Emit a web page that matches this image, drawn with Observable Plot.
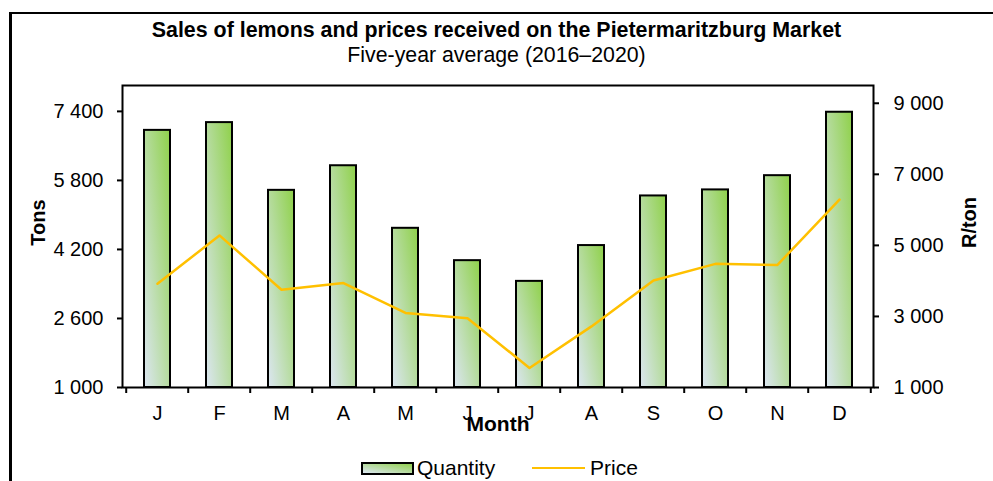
<!DOCTYPE html>
<html><head><meta charset="utf-8">
<script src="https://cdn.jsdelivr.net/npm/d3@7"></script>
<script src="https://cdn.jsdelivr.net/npm/@observablehq/plot@0.6"></script>
<style>
body{margin:0;background:#fff;}
#wrap{position:relative;width:993px;height:481px;overflow:hidden;font-family:"Liberation Sans",Arial,sans-serif;color:#000;background:#fff;}
#border{position:absolute;left:9px;top:12px;width:1000px;height:500px;border-left:3px solid #000;border-top:2px solid #000;}
#title{position:absolute;left:0;width:993px;top:18px;text-align:center;font-weight:bold;font-size:21.4px;line-height:24px;}
#subtitle{position:absolute;left:0;width:993px;top:43px;text-align:center;font-size:21.3px;line-height:24px;}
#chart{position:absolute;left:0;top:70px;}
#legend{position:absolute;top:456px;left:0;width:993px;height:24px;font-size:21px;}
.sw{position:absolute;top:6px;left:361px;width:49px;height:9px;border:2px solid #000;background:linear-gradient(to top right,#dce6f2,#92d050);}
.ln{position:absolute;top:11px;left:532px;width:53px;height:0;border-top:2.5px solid #ffc000;}
.lt{position:absolute;top:0;line-height:24px;}
</style></head>
<body>
<div id="wrap">
  <div id="border"></div>
  <div id="title">Sales of lemons and prices received on the Pietermaritzburg Market</div>
  <div id="subtitle">Five-year average (2016–2020)</div>
  <div id="chart"></div>
  <div id="legend">
    <div class="sw"></div><div class="lt" style="left:417px">Quantity</div>
    <div class="ln"></div><div class="lt" style="left:590px">Price</div>
  </div>
</div>
<script>
const months = ["J","F","M","A","M","J","J","A","S","O","N","D"];
const quantity = [6960, 7140, 5570, 6140, 4690, 3940, 3460, 4290, 5440, 5580, 5910, 7380];
const price = [3920, 5280, 3750, 3940, 3100, 2950, 1550, 2720, 4010, 4480, 4450, 6290];
const tonsTicks = [1000, 2600, 4200, 5800, 7400];
const priceTicks = [1000, 3000, 5000, 7000, 9000];
const tonsDomain = [1000, 8000];
const priceDomain = [1000, 9500];

const data = months.map((m, i) => ({i, month: m, qty: quantity[i], price: price[i]}));
const toTons = p => tonsDomain[0] + (p - priceDomain[0]) * (tonsDomain[1] - tonsDomain[0]) / (priceDomain[1] - priceDomain[0]);
const fromTons = t => priceDomain[0] + (t - tonsDomain[0]) * (priceDomain[1] - priceDomain[0]) / (tonsDomain[1] - tonsDomain[0]);
const fmt = d3.formatLocale({decimal: ".", thousands: " ", grouping: [3], currency: ["", ""]}).format(",");

const W = 993, H = 370, mL = 122, mR = 120, mT = 15, mB = 53;
const step = (W - mL - mR) / months.length;
const FS = 20;

const svg = Plot.plot({
  width: W, height: H,
  marginLeft: mL, marginRight: mR, marginTop: mT, marginBottom: mB,
  style: {fontFamily: '"Liberation Sans", Arial, sans-serif', fontSize: FS + "px", background: "transparent", overflow: "visible", color: "#000"},
  x: {type: "band", domain: d3.range(months.length), paddingInner: 0.585, paddingOuter: 0.2925, align: 0.5},
  y: {domain: tonsDomain},
  marks: [
    Plot.barY(data, {x: "i", y1: tonsDomain[0], y2: "qty", fill: "url(#qgrad)", stroke: "#000", strokeWidth: 2}),
    Plot.lineY(data, {x: "i", y: d => toTons(d.price), stroke: "#ffc000", strokeWidth: 2.5}),
    Plot.frame({stroke: "#000", strokeWidth: 2}),
    Plot.axisY(tonsTicks, {anchor: "left", tickSize: 5, tickPadding: 14, strokeWidth: 2, tickFormat: fmt, label: null, fontSize: FS}),
    Plot.axisY(priceTicks.map(toTons), {anchor: "right", tickSize: 5, tickPadding: 15, strokeWidth: 2, tickFormat: d => fmt(Math.round(fromTons(d))), label: null, fontSize: FS}),
    Plot.axisX(d3.range(months.length), {anchor: "bottom", tickSize: 0, tickPadding: 18, tickFormat: i => months[i], label: null, fontSize: FS}),
    Plot.axisX(d3.range(months.length), {anchor: "bottom", tickSize: 6, strokeWidth: 2, tickFormat: () => "", label: null, dx: -step / 2}),
    Plot.axisX([months.length - 1], {anchor: "bottom", tickSize: 6, strokeWidth: 2, tickFormat: () => "", label: null, dx: step / 2}),
    Plot.text(["Tons"], {frameAnchor: "left", textAnchor: "middle", lineAnchor: "middle", dx: -84, dy: -14, rotate: -90, fontWeight: "bold", fontSize: 20}),
    Plot.text(["R/ton"], {frameAnchor: "right", textAnchor: "middle", lineAnchor: "middle", dx: 96, dy: -14, rotate: -90, fontWeight: "bold", fontSize: 20}),
    Plot.text(["Month"], {frameAnchor: "bottom", textAnchor: "middle", lineAnchor: "middle", dy: 37, fontWeight: "bold", fontSize: 21})
  ]
});

const ns = "http://www.w3.org/2000/svg";
const defs = document.createElementNS(ns, "defs");
defs.innerHTML = '<linearGradient id="qgrad" x1="0" y1="1" x2="1" y2="0"><stop offset="0" stop-color="#dce6f2"/><stop offset="1" stop-color="#8fd14a"/></linearGradient>';
svg.insertBefore(defs, svg.firstChild);
document.getElementById("chart").appendChild(svg);
</script>
</body></html>
